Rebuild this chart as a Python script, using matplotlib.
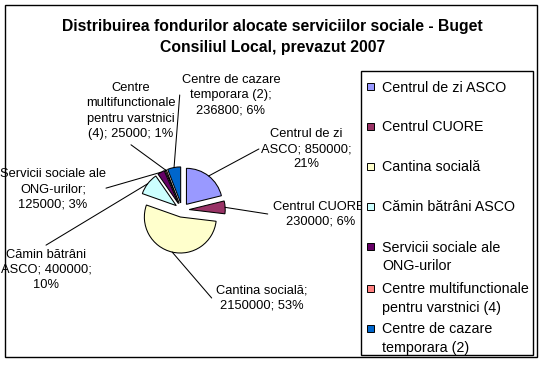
import matplotlib.pyplot as plt
from matplotlib.patches import Rectangle
import numpy as np

plt.rc("font", family=["Liberation Sans", "DejaVu Sans"])

W, H = 544, 365

categorii = ["Centrul de zi ASCO", "Centrul CUORE", "Cantina socială", "Cămin bătrâni ASCO",
             "Servicii sociale ale ONG-urilor", "Centre multifunctionale pentru varstnici (4)",
             "Centre de cazare temporara (2)"]
valori = [850000, 230000, 2150000, 400000, 125000, 25000, 236800]
procente = ["21%", "6%", "53%", "10%", "3%", "1%", "6%"]
culori = ["#9999FF", "#993366", "#FFFFCC", "#CCFFFF", "#660066", "#FF8080", "#0066CC"]

# etichete pe felii (textul asa cum apare, cu ruperi de rand)
etichete = ["Centrul de zi\nASCO; 850000;\n21%",
            "Centrul CUORE;\n230000; 6%",
            "Cantina socială;\n2150000; 53%",
            "Cămin bătrâni\nASCO; 400000;\n10%",
            "Servicii sociale ale\nONG-urilor;\n125000; 3%",
            "Centre\nmultifunctionale\npentru varstnici\n(4); 25000; 1%",
            "Centre de cazare\ntemporara (2);\n236800; 6%"]
# legenda cu ruperi de rand
legenda = ["Centrul de zi ASCO", "Centrul CUORE", "Cantina socială", "Cămin bătrâni ASCO",
           "Servicii sociale ale\nONG-urilor", "Centre multifunctionale\npentru varstnici (4)",
           "Centre de cazare\ntemporara (2)"]

# pozitii etichete (pixeli, de sus) si punctul de plecare al liniei
pos_et = [(306, 149), (321, 214), (262, 298), (46, 270), (53, 189), (131, 111), (231, 95)]
relpos = [(-0.02, 0.5), (-0.06, 0.5), (-0.05, 0.5), (0.5, 1.08), (1.0, 0.52), (0.5, -0.08), (-0.02, 0.5)]
pos_leg = [86.5, 126, 166, 206, 246.5, 288, 328]


def fx(x):
    return x / W


def fy(y):
    return 1 - y / H


fig = plt.figure(figsize=(W / 100, H / 100), dpi=100)

# chenarul exterior
fig.patches.append(Rectangle((fx(5), fy(357)), fx(537) - fx(5), fy(5) - fy(357),
                             transform=fig.transFigure, fill=False, ec="black", lw=1.0))

fig.text(fx(272.5), fy(27), "Distribuirea fondurilor alocate serviciilor sociale - Buget",
         ha="center", va="center", fontsize=11.3, fontweight="bold")
fig.text(fx(272.5), fy(47.5), "Consiliul Local, prevazut 2007",
         ha="center", va="center", fontsize=11.3, fontweight="bold")

# pie: centru (182, 210), raza 36 px
cx, cy, R = 182, 210, 36
ax = fig.add_axes([fx(cx - 100), fy(cy + 100), 200 / W, 200 / H])
wedges, _ = ax.pie(valori, colors=culori, startangle=90, counterclock=False,
                   explode=[0.2] * len(valori),
                   wedgeprops=dict(edgecolor="black", linewidth=0.75))
L = 100 / R
ax.set_xlim(-L, L)
ax.set_ylim(-L, L)
ax.axis("off")

for w, et, (tx, ty), rp in zip(wedges, etichete, pos_et, relpos):
    a = np.deg2rad((w.theta1 + w.theta2) / 2)
    px_ = w.center[0] + w.r * np.cos(a)
    py_ = w.center[1] + w.r * np.sin(a)
    ax.annotate(et, xy=(px_, py_), xytext=(tx, H - ty), textcoords="figure pixels",
                ha="center", va="center", fontsize=9.3, linespacing=1.38,
                annotation_clip=False,
                arrowprops=dict(arrowstyle="-", color="black", lw=0.75, relpos=rp,
                                patchA=None, shrinkA=0, shrinkB=0))

# legenda desenata manual
fig.patches.append(Rectangle((fx(361), fy(355)), fx(533) - fx(361), fy(71) - fy(355),
                             transform=fig.transFigure, fc="white", ec="black", lw=1.0,
                             zorder=5))
for nume, c, y in zip(legenda, culori, pos_leg):
    fig.patches.append(Rectangle((fx(367), fy(y + 3.5)), 7 / W, 7 / H,
                                 transform=fig.transFigure, fc=c, ec="black", lw=0.7,
                                 zorder=6))
    fig.text(fx(382), fy(y - 6), nume, ha="left", va="top", fontsize=10.3,
             linespacing=1.42, zorder=6)

fig.savefig("out.png", dpi=100)
